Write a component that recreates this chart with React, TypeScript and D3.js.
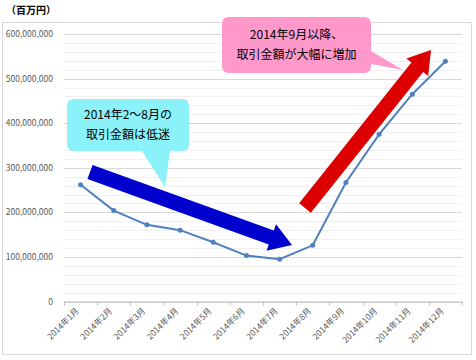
import React from "react";
import * as d3 from "d3";

const months = ["2014年1月","2014年2月","2014年3月","2014年4月","2014年5月","2014年6月","2014年7月","2014年8月","2014年9月","2014年10月","2014年11月","2014年12月"];
const amounts = [262000000, 204000000, 172000000, 160000000, 133000000, 103000000, 95000000, 126000000, 267000000, 375000000, 465000000, 539000000];
const yTicks = [0, 100000000, 200000000, 300000000, 400000000, 500000000, 600000000];
const unitLabel = "（百万円）";
const note1 = ["2014年2～8月の", "取引金額は低迷"];
const note2 = ["2014年9月以降、", "取引金額が大幅に増加"];

const W = 476, H = 360;
const left = 64, right = 462, top = 34, bottom = 301.5;
const font = "'Noto Sans CJK JP', 'Noto Sans', sans-serif";

function arrowPath(x1: number, y1: number, x2: number, y2: number, shaft: number, headW: number, headL: number) {
  const dx = x2 - x1, dy = y2 - y1;
  const len = Math.hypot(dx, dy);
  const ux = dx / len, uy = dy / len;
  const nx = -uy, ny = ux;
  const bx = x2 - ux * headL, by = y2 - uy * headL;
  const s = shaft / 2, h = headW / 2;
  const pts = [
    [x1 + nx * s, y1 + ny * s],
    [bx + nx * s, by + ny * s],
    [bx + nx * h, by + ny * h],
    [x2, y2],
    [bx - nx * h, by - ny * h],
    [bx - nx * s, by - ny * s],
    [x1 - nx * s, y1 - ny * s],
  ];
  return "M" + pts.map(p => p.join(",")).join("L") + "Z";
}

export default function App() {
  const x = d3.scaleBand<string>().domain(months).range([left, right]);
  const y = d3.scaleLinear().domain([0, 600000000]).range([bottom, top]);
  const minor = d3.range(0, 600000001, 20000000);
  const fmt = d3.format(",");
  const line = d3.line<number>()
    .x((_, i) => (x(months[i]) as number) + x.bandwidth() / 2)
    .y(d => y(d));

  const bx0 = 67, by0 = 99, bx1 = 189, by1 = 151;
  const bubble1 = `M${bx0 + 7},${by0} H${bx1 - 7} Q${bx1},${by0} ${bx1},${by0 + 7} V${by1 - 7} Q${bx1},${by1} ${bx1 - 7},${by1} H170 L165,187 L142,${by1} H${bx0 + 7} Q${bx0},${by1} ${bx0},${by1 - 7} V${by0 + 7} Q${bx0},${by0} ${bx0 + 7},${by0} Z`;
  const px0 = 222, py0 = 17, px1 = 371, py1 = 73;
  const bubble2 = `M${px0 + 7},${py0} H${px1 - 7} Q${px1},${py0} ${px1},${py0 + 7} V51 L403,70 L${px1},64 V${py1 - 7} Q${px1},${py1} ${px1 - 7},${py1} H${px0 + 7} Q${px0},${py1} ${px0},${py1 - 7} V${py0 + 7} Q${px0},${py0} ${px0 + 7},${py0} Z`;

  return (
    <svg width={W} height={H} style={{ position: "absolute", left: 0, top: 0 }} fontFamily={font}>
      <rect x={0} y={0} width={W} height={H} fill="#fff" />
      <rect x={2.5} y={22.5} width={469} height={332} fill="#fff" stroke="#D9D9D9" />
      <text x={6} y={14} fontSize={10} fontWeight="bold" fill="#000">{unitLabel}</text>
      {minor.map(v => (
        <line key={"m" + v} x1={left} x2={right} y1={Math.round(y(v)) + 0.5} y2={Math.round(y(v)) + 0.5}
          stroke={v % 100000000 === 0 ? "#D9D9D9" : "#F0F0F0"} />
      ))}
      {yTicks.map(v => (
        <text key={"t" + v} x={53} y={y(v) + 3} fontSize={8.5} fill="#595959" textAnchor="end">{fmt(v)}</text>
      ))}
      <line x1={left} x2={right} y1={bottom + 0.5} y2={bottom + 0.5} stroke="#BFBFBF" />
      {months.concat(["end"]).map((m, i) => {
        const xv = Math.round(left + i * x.step()) + 0.5;
        return <line key={"k" + i} x1={xv} x2={xv} y1={bottom} y2={bottom + 4} stroke="#BFBFBF" />;
      })}
      {months.map(m => {
        const cx = (x(m) as number) + x.bandwidth() / 2 - 1;
        const cy = bottom + 10;
        return (
          <text key={m} x={cx} y={cy} fontSize={8.5} fill="#595959" textAnchor="end"
            transform={`rotate(-45 ${cx} ${cy})`}>{m}</text>
        );
      })}
      <path d={line(amounts) as string} fill="none" stroke="#4F81BD" strokeWidth={2} />
      {amounts.map((v, i) => (
        <circle key={i} cx={(x(months[i]) as number) + x.bandwidth() / 2} cy={y(v)} r={2.5} fill="#4F81BD" />
      ))}
      <path d={bubble1} fill="#8CF2FA" />
      {note1.map((t, i) => (
        <text key={t} x={(bx0 + bx1) / 2} y={119 + i * 20} fontSize={12} textAnchor="middle" fill="#000">{t}</text>
      ))}
      <path d={bubble2} fill="#FF99CC" />
      {note2.map((t, i) => (
        <text key={t} x={(px0 + px1) / 2} y={39 + i * 20} fontSize={12} textAnchor="middle" fill="#000">{t}</text>
      ))}
      <path d={arrowPath(90, 172, 292, 245, 15, 28, 22)} fill="#0000CC" />
      <path d={arrowPath(305, 208, 431, 50, 15, 28, 22)} fill="#DD0000" />
    </svg>
  );
}
